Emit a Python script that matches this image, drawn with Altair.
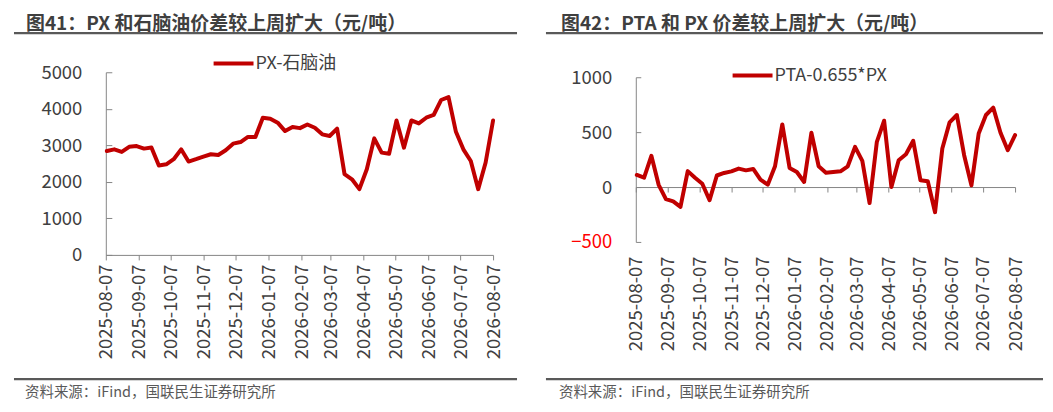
import altair as alt
import pandas as pd

# ---------------- data ----------------
dates = pd.date_range("2025-08-08", periods=53, freq="7D").strftime("%Y-%m-%d").tolist()

px_naphtha = [2845, 2890, 2820, 2960, 2980, 2910, 2940, 2450, 2480, 2620,
              2890, 2555, 2620, 2690, 2755, 2735, 2865, 3045, 3090, 3230,
              3230, 3755, 3730, 3620, 3390, 3500, 3470, 3570, 3480, 3300,
              3255, 3455, 2210, 2070, 1800, 2345, 3190, 2800, 2770, 3680,
              2935, 3680, 3600, 3755, 3830, 4240, 4320, 3370, 2890, 2570,
              1800, 2530, 3680]

pta_px = [110, 85, 284, 20, -110, -130, -180, 145, 85, 30,
          -120, 105, 128, 143, 168, 152, 165, 67, 21, 189,
          570, 174, 137, 46, 494, 189, 130, 137, 143, 189,
          366, 238, -146, 412, 604, 0, 244, 299, 421, 61,
          52, -229, 351, 589, 656, 290, 15, 488, 656, 723,
          494, 335, 473]

tick_dates = ["2025-08-07", "2025-09-07", "2025-10-07", "2025-11-07", "2025-12-07",
              "2026-01-07", "2026-02-07", "2026-03-07", "2026-04-07", "2026-05-07",
              "2026-06-07", "2026-07-07", "2026-08-07"]
left_y_ticks = [0, 1000, 2000, 3000, 4000, 5000]
right_y_ticks = [-500, 0, 500, 1000]

series_left = ["PX-石脑油"]
series_right = ["PTA-0.655*PX"]
title_left = ["图41：PX 和石脑油价差较上周扩大（元/吨）"]
title_right = ["图42：PTA 和 PX 价差较上周扩大（元/吨）"]
source_text = ["资料来源：iFind，国联民生证券研究所"]

# ---------------- style ----------------
FONT = "Noto Sans CJK SC"
RED = "#C00000"
AX = "#868686"
TXT = "#404040"
LINE = "#595959"


def dt(s):
    return alt.DateTime(year=int(s[:4]), month=int(s[5:7]), date=int(s[8:10]))


tick_values = [dt(d) for d in tick_dates]
xscale = alt.Scale(domain=[dt(tick_dates[0]), dt(tick_dates[-1])])


def decorations(title, x_line0, x_line1, x_title, x_src, anchor_x):
    t = pd.DataFrame({"t": title})
    s = pd.DataFrame({"t": source_text})
    anchor = alt.Chart(t).mark_rule(stroke="white", strokeWidth=1).encode(
        x=alt.value(anchor_x), x2=alt.value(anchor_x + 2), y=alt.value(-63.5))
    ttl = alt.Chart(t).mark_text(align="left", baseline="middle", font=FONT, fontSize=19,
                                 fontWeight="bold", color="#3f3f3f").encode(
        x=alt.value(x_title), y=alt.value(-48.0), text="t:N")
    top_line = alt.Chart(t).mark_rule(stroke=LINE, strokeWidth=2.2).encode(
        x=alt.value(x_line0), x2=alt.value(x_line1), y=alt.value(-39.2))
    bot_line = alt.Chart(t).mark_rule(stroke=LINE, strokeWidth=2.2).encode(
        x=alt.value(x_line0), x2=alt.value(x_line1), y=alt.value(307.5))
    src = alt.Chart(s).mark_text(align="left", baseline="middle", font=FONT, fontSize=14.5,
                                 color="#595959").encode(
        x=alt.value(x_src), y=alt.value(321.5), text="t:N")
    return [anchor, ttl, top_line, bot_line, src]


def legend(lx, ly):
    return alt.Legend(orient="none", legendX=lx, legendY=ly, title=None,
                      symbolType="stroke", symbolSize=1600, symbolStrokeWidth=4,
                      labelFont=FONT, labelFontSize=18, labelColor=TXT,
                      padding=0, labelOffset=0)


# ---------------- left panel ----------------
WL, HL = 388, 183
df_l = pd.DataFrame({"date": dates, "value": px_naphtha, "series": series_left * len(dates)})

line_l = alt.Chart(df_l).mark_line(strokeWidth=4, strokeJoin="round", strokeCap="round").encode(
    x=alt.X("date:T", scale=xscale, title=None,
            axis=alt.Axis(values=tick_values, format="%Y-%m-%d", labelAngle=270,
                          domain=True, domainColor=AX, ticks=True, tickColor=AX, tickSize=5,
                          labelPadding=4, labelFont=FONT, labelFontSize=18.5, labelColor=TXT,
                          grid=False, labelOverlap=False, labelBound=False, labelFlush=False)),
    y=alt.Y("value:Q", scale=alt.Scale(domain=[0, 5000]), title=None,
            axis=alt.Axis(values=left_y_ticks, format="d", domain=True, domainColor=AX, ticks=False,
                          labelPadding=24, labelFont=FONT, labelFontSize=18.5, labelColor=TXT,
                          grid=False)),
    color=alt.Color("series:N", scale=alt.Scale(range=[RED]), legend=legend(106, -30.7)),
)
ticks_l = alt.Chart(df_l).mark_line(strokeOpacity=0).encode(
    x=alt.X("date:T", scale=xscale, axis=None),
    y=alt.Y("value:Q", scale=alt.Scale(domain=[0, 5000]), title=None,
            axis=alt.Axis(values=left_y_ticks, orient="right", offset=-WL, domain=False,
                          ticks=True, tickColor=AX, tickSize=6, labels=False, grid=False)),
)
left = alt.layer(line_l, ticks_l, *decorations(title_left, -92, 412, -80, -81, -97)).resolve_axis(
    x="independent", y="independent").properties(width=WL, height=HL)

# ---------------- right panel ----------------
WR, HR = 380, 170
df_r = pd.DataFrame({"date": dates, "value": pta_px, "series": series_right * len(dates)})
yscale_r = alt.Scale(domain=[-500, 1000], range=[HR, 5])

line_r = alt.Chart(df_r).mark_line(strokeWidth=4, strokeJoin="round", strokeCap="round").encode(
    x=alt.X("date:T", scale=xscale, title=None,
            axis=alt.Axis(values=tick_values, format="%Y-%m-%d", labelAngle=270,
                          domain=False, ticks=False, labelPadding=14,
                          labelFont=FONT, labelFontSize=18.5, labelColor=TXT,
                          grid=False, labelOverlap=False, labelBound=False, labelFlush=False)),
    y=alt.Y("value:Q", scale=yscale_r, title=None,
            axis=alt.Axis(values=right_y_ticks, format="d", domain=False, ticks=False, labelPadding=24,
                          labelFont=FONT, labelFontSize=18.5,
                          labelColor=alt.condition("datum.value < 0", alt.value("#FF0000"), alt.value(TXT)),
                          grid=False)),
    color=alt.Color("series:N", scale=alt.Scale(range=[RED]), legend=legend(95, -18.7)),
)
axes_r = alt.Chart(df_r).mark_line(strokeOpacity=0).encode(
    x=alt.X("date:T", scale=xscale, title=None,
            axis=alt.Axis(values=tick_values, orient="bottom", offset=-55, domain=True,
                          domainColor=AX, ticks=True, tickColor=AX, tickSize=5,
                          labels=False, grid=False)),
    y=alt.Y("value:Q", scale=yscale_r, title=None,
            axis=alt.Axis(values=right_y_ticks, orient="right", offset=-WR, domain=True,
                          domainColor=AX, ticks=True, tickColor=AX, tickSize=5,
                          labels=False, grid=False)),
)
right = alt.layer(line_r, axes_r, *decorations(title_right, -90, 408, -75, -77, -90)).resolve_axis(
    x="independent", y="independent").properties(width=WR, height=HR)

chart = alt.hconcat(left, right, spacing=143, bounds="flush").resolve_scale(
    color="independent").properties(padding=0, background="white").configure_view(stroke=None)

chart.save("out.html", embed_options={"renderer": "svg", "actions": False})
